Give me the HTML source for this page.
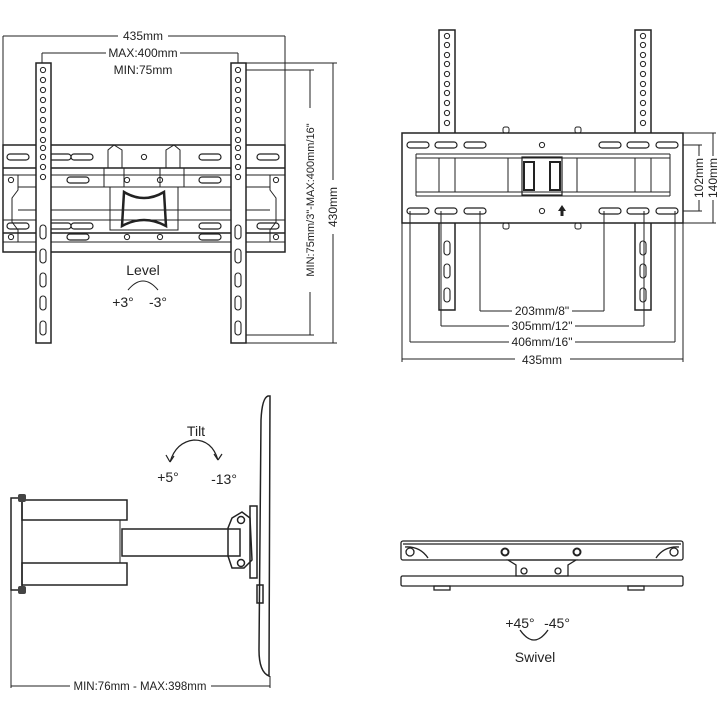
<!DOCTYPE html>
<html><head><meta charset="utf-8"><style>
html,body{margin:0;padding:0;background:#fff;width:720px;height:720px;overflow:hidden}
svg{display:block}
text{font-family:"Liberation Sans Narrow","Liberation Sans",sans-serif;fill:#222}
</style></head><body>
<svg width="720" height="720" viewBox="0 0 720 720" xmlns="http://www.w3.org/2000/svg">
<defs>
<g id="hole"><circle r="2.6" fill="none" stroke="#222" stroke-width="1"/></g>
<g id="slotH"><rect x="-11" y="-3" width="22" height="6" rx="3" fill="none" stroke="#222" stroke-width="1.2"/></g>
<g id="slotV"><rect x="-3" y="-7" width="6" height="14" rx="3" fill="none" stroke="#222" stroke-width="1.1"/></g>
<g id="tlh">
<use href="#hole" x="0" y="70"/><use href="#hole" x="0" y="80"/><use href="#hole" x="0" y="90"/><use href="#hole" x="0" y="100"/>
<use href="#hole" x="0" y="110"/><use href="#hole" x="0" y="120"/><use href="#hole" x="0" y="130"/><use href="#hole" x="0" y="140"/>
<use href="#hole" x="0" y="148"/><use href="#hole" x="0" y="157"/><use href="#hole" x="0" y="167"/><use href="#hole" x="0" y="177"/>
<use href="#slotV" x="0" y="232"/><use href="#slotV" x="0" y="256"/><use href="#slotV" x="0" y="280"/><use href="#slotV" x="0" y="303"/><use href="#slotV" x="0" y="328"/>
</g>
<g id="trh">
<use href="#hole" x="0" y="36"/><use href="#hole" x="0" y="45"/><use href="#hole" x="0" y="55"/><use href="#hole" x="0" y="64"/><use href="#hole" x="0" y="74"/>
<use href="#hole" x="0" y="84"/><use href="#hole" x="0" y="93"/><use href="#hole" x="0" y="103"/><use href="#hole" x="0" y="113"/><use href="#hole" x="0" y="123"/>
<use href="#slotV" x="0" y="248"/><use href="#slotV" x="0" y="271"/><use href="#slotV" x="0" y="295"/>
</g>
</defs>
<g fill="none" stroke="#222" stroke-width="1">
<line x1="3" y1="36" x2="3" y2="147"/><line x1="285" y1="36" x2="285" y2="147"/>
<line x1="3" y1="36" x2="118" y2="36"/><line x1="168" y1="36" x2="285" y2="36"/>
<line x1="42" y1="53" x2="42" y2="63"/><line x1="238" y1="53" x2="238" y2="63"/>
<line x1="42" y1="53" x2="106" y2="53"/><line x1="180" y1="53" x2="238" y2="53"/>
<rect x="3" y="145" width="282" height="107" stroke-width="1.5"/>
<line x1="3" y1="168" x2="285" y2="168" stroke-width="1.5"/>
<line x1="3" y1="175" x2="285" y2="175"/>
<line x1="18" y1="187" x2="270" y2="187"/>
<line x1="18" y1="210" x2="270" y2="210"/>
<line x1="3" y1="220" x2="285" y2="220"/>
<line x1="3" y1="233" x2="285" y2="233" stroke-width="1.5"/>
<line x1="3" y1="242" x2="285" y2="242"/>
<path d="M18 175 V190 L12 198 V222 L18 230 V242"/><path d="M270 175 V190 L276 198 V222 L270 230 V242"/>
<path d="M108 168 V150 L114 145 L122 150 V168"/><path d="M180 168 V150 L174 145 L166 150 V168"/>
<path d="M104 168 V187 M124 168 V187 M160 168 V187 M184 168 V187"/>
<path d="M110 187 H178 V230 H110 Z"/>
<path d="M124 192 Q144 204 164 192 L166 226 Q144 214 122 226 Z" stroke-width="2.5"/>
<use href="#slotH" x="18" y="157"/><use href="#slotH" x="60" y="157"/><use href="#slotH" x="82" y="157"/>
<use href="#slotH" x="210" y="157"/><use href="#slotH" x="268" y="157"/>
<use href="#slotH" x="78" y="180"/><use href="#slotH" x="210" y="180"/>
<use href="#slotH" x="18" y="226"/><use href="#slotH" x="60" y="226"/><use href="#slotH" x="82" y="226"/>
<use href="#slotH" x="210" y="226"/><use href="#slotH" x="268" y="226"/>
<use href="#slotH" x="78" y="237"/><use href="#slotH" x="210" y="237"/>
<use href="#hole" x="144" y="157"/><use href="#hole" x="127" y="180"/><use href="#hole" x="160" y="180"/>
<use href="#hole" x="127" y="237"/><use href="#hole" x="160" y="237"/>
<use href="#hole" x="11" y="180"/><use href="#hole" x="276" y="180"/><use href="#hole" x="11" y="237"/><use href="#hole" x="276" y="237"/>
<rect x="36" y="63" width="15" height="280" fill="#fff" stroke-width="1.5"/>
<rect x="231" y="63" width="15" height="280" fill="#fff" stroke-width="1.5"/>
<use href="#tlh" x="43"/><use href="#tlh" x="238"/>
<line x1="246" y1="70" x2="314" y2="70"/><line x1="246" y1="335" x2="314" y2="335"/>
<line x1="310" y1="70" x2="310" y2="108"/><line x1="310" y1="292" x2="310" y2="335"/>
<line x1="240" y1="63" x2="337" y2="63"/><line x1="246" y1="343" x2="337" y2="343"/>
<line x1="333" y1="63" x2="333" y2="180"/><line x1="333" y1="234" x2="333" y2="343"/>
<path d="M128 290 Q143 272 158 290" />
</g>
<text x="143" y="40" font-size="12" text-anchor="middle">435mm</text>
<text x="143" y="57" font-size="12" text-anchor="middle">MAX:400mm</text>
<text x="143" y="74" font-size="12" text-anchor="middle">MIN:75mm</text>
<text transform="translate(314,200) rotate(-90)" font-size="11" text-anchor="middle">MIN:75mm/3"-MAX:400mm/16"</text>
<text transform="translate(337,207) rotate(-90)" font-size="12" text-anchor="middle">430mm</text>
<text x="143" y="275" font-size="14" text-anchor="middle">Level</text>
<text x="123" y="307" font-size="14" text-anchor="middle">+3°</text>
<text x="158" y="307" font-size="14" text-anchor="middle">-3°</text>

<g fill="none" stroke="#222" stroke-width="1">
<rect x="439" y="30" width="16" height="280" stroke-width="1.5"/>
<rect x="635" y="30" width="16" height="280" stroke-width="1.5"/>
<use href="#trh" x="447"/><use href="#trh" x="643"/>
<rect x="402" y="133" width="281" height="90" fill="#fff" stroke-width="1.5"/>
<line x1="416" y1="154" x2="670" y2="154"/><line x1="416" y1="158" x2="670" y2="158"/>
<line x1="416" y1="192" x2="670" y2="192"/><line x1="416" y1="196" x2="670" y2="196"/>
<line x1="416" y1="154" x2="416" y2="196"/><line x1="670" y1="154" x2="670" y2="196"/>
<line x1="439" y1="158" x2="439" y2="192"/><line x1="455" y1="158" x2="455" y2="192"/>
<line x1="635" y1="158" x2="635" y2="192"/><line x1="651" y1="158" x2="651" y2="192"/>
<line x1="508" y1="158" x2="508" y2="192"/><line x1="577" y1="158" x2="577" y2="192"/>
<rect x="522" y="157" width="40" height="38" stroke-width="1.2"/>
<rect x="524" y="162" width="10" height="28" stroke-width="2"/><rect x="550" y="162" width="10" height="28" stroke-width="2"/>
<use href="#slotH" x="418" y="145"/><use href="#slotH" x="446" y="145"/><use href="#slotH" x="475" y="145"/>
<use href="#slotH" x="610" y="145"/><use href="#slotH" x="638" y="145"/><use href="#slotH" x="667" y="145"/>
<use href="#slotH" x="418" y="211"/><use href="#slotH" x="446" y="211"/><use href="#slotH" x="475" y="211"/>
<use href="#slotH" x="610" y="211"/><use href="#slotH" x="638" y="211"/><use href="#slotH" x="667" y="211"/>
<use href="#hole" x="542" y="145"/><use href="#hole" x="542" y="211"/>
<rect x="503" y="127" width="6" height="6" rx="2"/><rect x="575" y="127" width="6" height="6" rx="2"/>
<rect x="503" y="223" width="6" height="6" rx="2"/><rect x="575" y="223" width="6" height="6" rx="2"/>
<line x1="683" y1="145" x2="702" y2="145"/><line x1="683" y1="211" x2="702" y2="211"/>
<line x1="699" y1="145" x2="699" y2="156"/><line x1="699" y1="200" x2="699" y2="211"/>
<line x1="683" y1="133" x2="716" y2="133"/><line x1="683" y1="223" x2="716" y2="223"/>
<line x1="713" y1="133" x2="713" y2="156"/><line x1="713" y1="200" x2="713" y2="223"/>
<line x1="480" y1="211" x2="480" y2="311"/><line x1="604" y1="211" x2="604" y2="311"/>
<line x1="480" y1="311" x2="512" y2="311"/><line x1="572" y1="311" x2="604" y2="311"/>
<line x1="441" y1="211" x2="441" y2="326"/><line x1="644" y1="211" x2="644" y2="326"/>
<line x1="441" y1="326" x2="509" y2="326"/><line x1="575" y1="326" x2="644" y2="326"/>
<line x1="410" y1="211" x2="410" y2="342"/><line x1="675" y1="211" x2="675" y2="342"/>
<line x1="410" y1="342" x2="509" y2="342"/><line x1="575" y1="342" x2="675" y2="342"/>
<line x1="402" y1="223" x2="402" y2="362"/><line x1="683" y1="223" x2="683" y2="362"/>
<line x1="402" y1="359" x2="515" y2="359"/><line x1="570" y1="359" x2="683" y2="359"/>
</g>
<path d="M562 205 L566 211 H563.5 V216 H560.5 V211 H558 Z" fill="#222"/>
<text transform="translate(703,178) rotate(-90)" font-size="12" text-anchor="middle">102mm</text>
<text transform="translate(717,178) rotate(-90)" font-size="12" text-anchor="middle">140mm</text>
<text x="542" y="315" font-size="12" text-anchor="middle">203mm/8"</text>
<text x="542" y="330" font-size="12" text-anchor="middle">305mm/12"</text>
<text x="542" y="346" font-size="12" text-anchor="middle">406mm/16"</text>
<text x="542" y="364" font-size="12" text-anchor="middle">435mm</text>

<g fill="none" stroke="#222" stroke-width="1.5">
<path d="M268 396 Q262 398 261 420 L259 650 Q259 672 269 676 L270 396 Z"/>
<rect x="11" y="498" width="11" height="92"/>
<rect x="22" y="500" width="105" height="20"/>
<rect x="22" y="563" width="105" height="22"/>
<rect x="22" y="520" width="98" height="43" stroke-width="1"/>
<rect x="122" y="529" width="118" height="27"/>
<path d="M228 528 L232 518 L242 512 L250 518 L252 560 L244 568 L232 568 L228 556 Z"/>
<rect x="250" y="506" width="7" height="72"/>
<circle cx="241" cy="520" r="3.5"/><circle cx="241" cy="563" r="3.5"/>
<rect x="257" y="585" width="6" height="18"/>
<path d="M170 462 Q176 442 194 440 Q212 440 218 460" stroke-width="1.2"/>
<path d="M170 462 L166 455 M170 462 L174 456" stroke-width="1.2"/>
<path d="M218 460 L214 454 M218 460 L222 454" stroke-width="1.2"/>
<line x1="11" y1="590" x2="11" y2="688" stroke-width="1"/><line x1="270" y1="676" x2="270" y2="688" stroke-width="1"/>
<line x1="11" y1="686" x2="70" y2="686" stroke-width="1"/><line x1="211" y1="686" x2="270" y2="686" stroke-width="1"/>
</g>
<rect x="18" y="494" width="8" height="8" rx="2" fill="#444"/><rect x="18" y="586" width="8" height="8" rx="2" fill="#444"/>
<text x="196" y="436" font-size="14" text-anchor="middle">Tilt</text>
<text x="168" y="482" font-size="14" text-anchor="middle">+5°</text>
<text x="224" y="484" font-size="14" text-anchor="middle">-13°</text>
<text x="140" y="690" font-size="11.5" text-anchor="middle">MIN:76mm - MAX:398mm</text>

<g fill="none" stroke="#222" stroke-width="1.3">
<rect x="401" y="541" width="282" height="19" rx="2"/>
<line x1="403" y1="544" x2="681" y2="544"/>
<circle cx="410" cy="552" r="4"/><circle cx="674" cy="552" r="4"/>
<path d="M405 547 Q420 546 428 558"/><path d="M679 547 Q664 546 656 558"/>
<circle cx="505" cy="552" r="3.5" stroke-width="2"/><circle cx="577" cy="552" r="3.5" stroke-width="2"/>
<path d="M508 560 H576 L568 565 V576 H516 V565 Z"/>
<circle cx="524" cy="571" r="3"/><circle cx="558" cy="571" r="3"/>
<rect x="401" y="576" width="282" height="10" rx="1.5"/>
<rect x="434" y="586" width="16" height="4"/><rect x="628" y="586" width="16" height="4"/>
<path d="M520 630 Q534 650 548 630"/>
</g>
<text x="520" y="628" font-size="14" text-anchor="middle">+45°</text>
<text x="557" y="628" font-size="14" text-anchor="middle">-45°</text>
<text x="535" y="662" font-size="14" text-anchor="middle">Swivel</text>
</svg>
</body></html>
